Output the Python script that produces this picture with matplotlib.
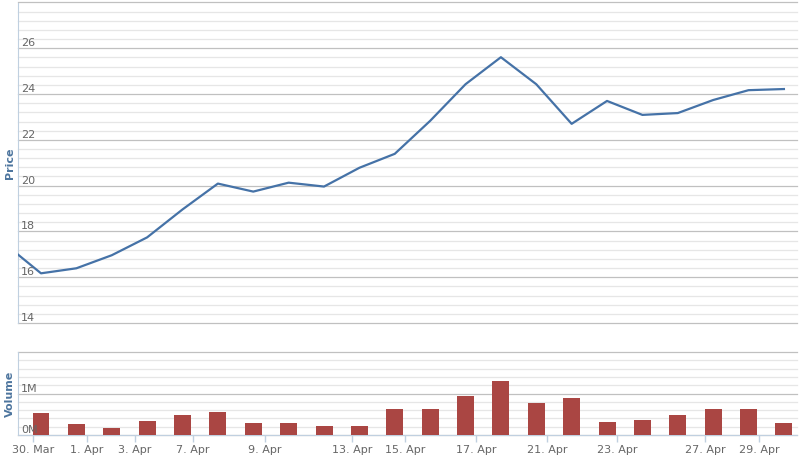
import matplotlib
matplotlib.use("Agg")
import matplotlib.pyplot as plt
import matplotlib.transforms as mtransforms
import numpy as np

# trading-day index 0 is the point just left of the visible range
price = [17.43, 16.17, 16.39, 16.96, 17.74, 18.96, 20.09, 19.74, 20.13, 19.96,
         20.78, 21.39, 22.83, 24.43, 25.61, 24.43, 22.70, 23.70, 23.09, 23.17,
         23.74, 24.17, 24.22]
volume = [0.0, 0.54, 0.27, 0.17, 0.34, 0.49, 0.56, 0.29, 0.29, 0.22, 0.22,
          0.63, 0.63, 0.93, 1.29, 0.78, 0.90, 0.32, 0.37, 0.49, 0.63, 0.63, 0.29]
tick_pos = [0.77, 2.30, 3.66, 5.30, 7.33, 9.79, 11.29, 13.30, 15.31, 17.29, 19.77, 21.30]
tick_labels = ["30. Mar", "1. Apr", "3. Apr", "7. Apr", "9. Apr", "13. Apr",
               "15. Apr", "17. Apr", "21. Apr", "23. Apr", "27. Apr", "29. Apr"]
price_ticks = [14, 16, 18, 20, 22, 24, 26, 28]
vol_ticks = [0, 1, 2]
vol_tick_labels = ["0M", "1M", "2M"]

W, H = 800, 455
fig = plt.figure(figsize=(8, 4.55), dpi=100)
left, right = 18 / W, 797 / W
ax1 = fig.add_axes([left, 1 - 323 / H, right - left, 320.5 / H])
ax2 = fig.add_axes([left, 1 - 435 / H, right - left, 83 / H], sharex=ax1)

x = np.arange(len(price))
ax1.plot(x, price, color="#4572A7", lw=1.6, solid_joinstyle="round", zorder=3)
ax2.bar(x[1:], volume[1:], width=0.48, color="#AA4643", zorder=3)

ax1.set_xlim(0.35, 22.37)
ax1.set_ylim(14, 28)
ax2.set_ylim(0, 2)

axis_col = "#C0D0E0"
label_col = "#666666"

for ax, majors, step in [(ax1, price_ticks, 0.4), (ax2, vol_ticks, 0.2)]:
    lo, hi = ax.get_ylim()
    for v in np.arange(lo, hi + 1e-9, step):
        is_major = any(abs(v - m) < 1e-6 for m in majors)
        ax.axhline(v, color="#C0C0C0" if is_major else "#E6E6E6",
                   lw=0.9, zorder=1, clip_on=False)
    for s in ["top", "right", "bottom"]:
        ax.spines[s].set_visible(False)
    ax.spines["left"].set_color(axis_col)
    ax.set_yticks([])
    ax.tick_params(axis="x", which="both", bottom=False, labelbottom=False)

ax2.spines["bottom"].set_visible(True)
ax2.spines["bottom"].set_color(axis_col)

# y labels sit inside the plot, above their grid line
tr1 = mtransforms.blended_transform_factory(ax1.transAxes, ax1.transData)
for v in price_ticks[:-1]:
    ax1.text(3 / 779, v, str(v), transform=tr1, ha="left", va="bottom",
             fontsize=8, color=label_col)
tr2 = mtransforms.blended_transform_factory(ax2.transAxes, ax2.transData)
for v, lab in zip(vol_ticks[:-1], vol_tick_labels[:-1]):
    ax2.text(3 / 779, v, lab, transform=tr2, ha="left", va="bottom",
             fontsize=8, color=label_col)

ax2.set_xticks(tick_pos)
ax2.set_xticklabels(tick_labels)
ax2.tick_params(axis="x", bottom=True, labelbottom=True, length=5, width=1,
                color=axis_col, labelcolor=label_col, labelsize=8, pad=2)

fig.text(10 / W, 1 - 163 / H, "Price", rotation=90, ha="center", va="center",
         fontsize=8, fontweight="bold", color="#4D759E")
fig.text(10 / W, 1 - 394 / H, "Volume", rotation=90, ha="center", va="center",
         fontsize=8, fontweight="bold", color="#4D759E")

fig.savefig("out.png", dpi=100)
